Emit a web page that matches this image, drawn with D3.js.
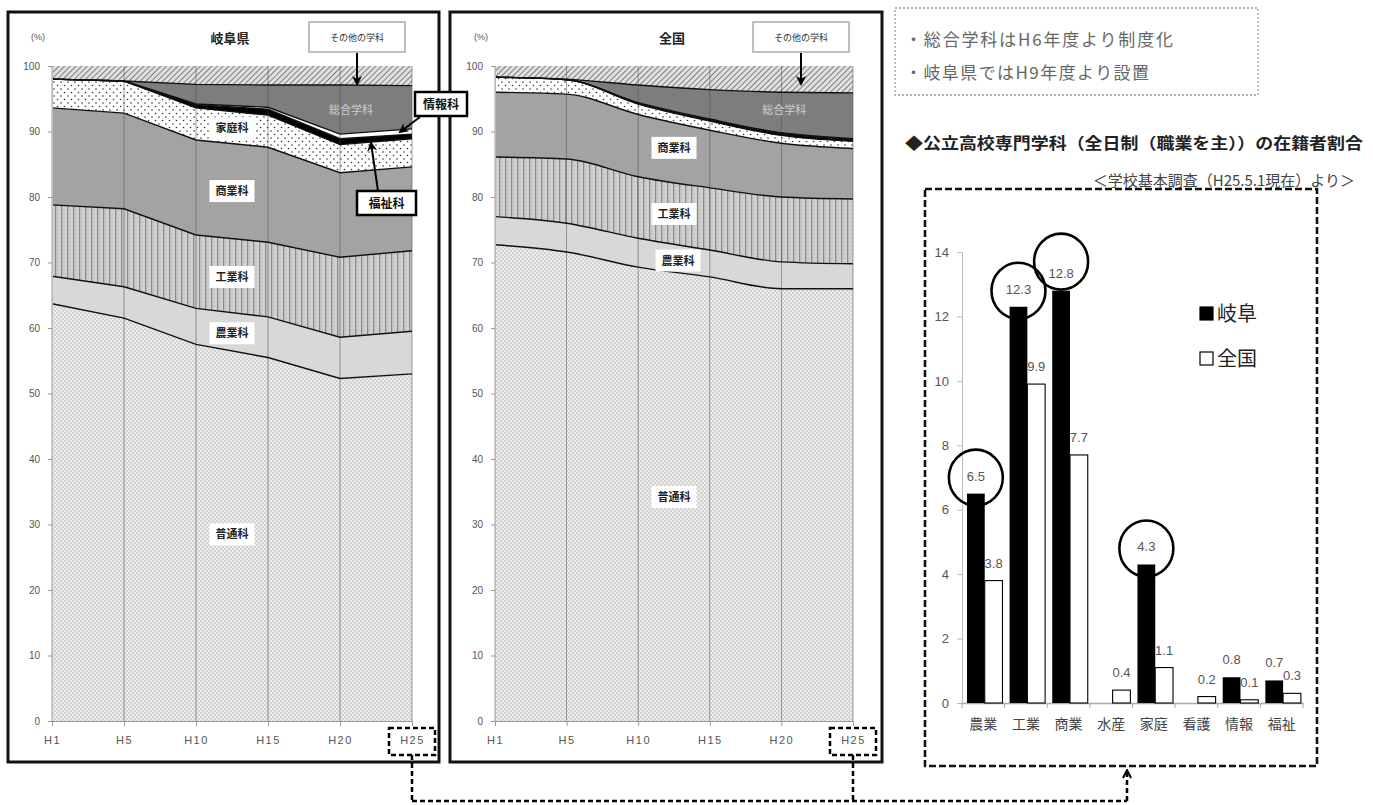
<!DOCTYPE html>
<html><head><meta charset="utf-8">
<script src="https://cdn.jsdelivr.net/npm/d3@7"></script>
<style>
body{margin:0;background:#fff;}
svg{display:block;}
text{font-family:"Noto Sans CJK JP","Noto Sans",sans-serif;}
.num{font-family:"Liberation Sans","Noto Sans",sans-serif;}
</style></head><body>
<svg id="c" width="1373" height="805"></svg>
<script>
// ---------- data ----------
const years = ["H1","H5","H10","H15","H20","H25"];
const layerKeys = ["普通科","農業科","工業科","商業科","家庭科","福祉科","情報科","総合学科","その他の学科"];
const panelTicks = [0,10,20,30,40,50,60,70,80,90,100];

// 岐阜県 (%)
const gifuFutsu   = [63.7,61.5,57.5,55.5,52.3,53.0];
const gifuNogyo   = [4.2,4.8,5.5,6.2,6.3,6.5];
const gifuKogyo   = [10.9,11.9,11.2,11.4,12.2,12.3];
const gifuShogyo  = [14.8,14.6,14.5,14.5,12.9,12.8];
const gifuKatei   = [4.4,4.9,4.9,4.9,4.3,4.3];
const gifuFukushi = [0,0,0.5,0.9,0.9,0.7];
const gifuJoho    = [0,0,0.1,0.3,0.7,0.8];
const gifuSogo    = [0,0,3.0,3.4,7.5,6.6];
const gifuOther   = [2.0,2.3,2.8,2.9,2.9,3.0];

// 全国 (%)
const natFutsu   = [72.7,71.6,69.3,67.8,66.0,66.0];
const natNogyo   = [4.3,4.4,4.4,4.1,4.1,3.8];
const natKogyo   = [9.1,9.8,9.4,9.5,9.9,9.9];
const natShogyo  = [9.9,9.9,9.5,8.8,8.2,7.7];
const natKatei   = [2.3,2.2,1.6,1.4,1.2,1.1];
const natFukushi = [0,0,0.1,0.2,0.3,0.3];
const natJoho    = [0,0,0.1,0.1,0.1,0.1];
const natSogo    = [0,0.1,2.7,4.5,6.2,7.0];
const natOther   = [1.7,2.0,2.9,3.6,4.0,4.1];

// bar chart (H25)
const barCats  = ["農業","工業","商業","水産","家庭","看護","情報","福祉"];
const gifuBar  = [6.5,12.3,12.8,0,4.3,0,0.8,0.7];
const natBar   = [3.8,9.9,7.7,0.4,1.1,0.2,0.1,0.3];
const circled  = ["農業","工業","商業","家庭"];
const barTicks = [0,2,4,6,8,10,12,14];
const seriesNames = ["岐阜","全国"];

// ---------- drawing ----------
const svg = d3.select("#c");
const defs = svg.append("defs");

function pat(id,w,h,build,transform){
  const p = defs.append("pattern").attr("id",id).attr("width",w).attr("height",h)
    .attr("patternUnits","userSpaceOnUse");
  if(transform) p.attr("patternTransform",transform);
  build(p);
}
pat("pFutsu",4,4,p=>{
  p.append("rect").attr("width",4).attr("height",4).attr("fill","#ececec");
  p.append("circle").attr("cx",1).attr("cy",1).attr("r",0.7).attr("fill","#a5a5a5");
  p.append("circle").attr("cx",3).attr("cy",3).attr("r",0.7).attr("fill","#a5a5a5");
});
pat("pNogyo",4,4,p=>{
  p.append("rect").attr("width",4).attr("height",4).attr("fill","#d8d8d8");
});
pat("pKogyo",6,4,p=>{
  p.append("rect").attr("width",6).attr("height",4).attr("fill","#d0d0d0");
  p.append("rect").attr("x",1).attr("width",1.3).attr("height",4).attr("fill","#8a8a8a");
  p.append("circle").attr("cx",4).attr("cy",2).attr("r",0.55).attr("fill","#a0a0a0");
});
pat("pShogyo",4,4,p=>{
  p.append("rect").attr("width",4).attr("height",4).attr("fill","#a3a3a3");
});
pat("pKatei",7,7,p=>{
  p.append("rect").attr("width",7).attr("height",7).attr("fill","#fff");
  p.append("circle").attr("cx",1.5).attr("cy",1.5).attr("r",0.8).attr("fill","#333");
  p.append("circle").attr("cx",5).attr("cy",5).attr("r",0.8).attr("fill","#333");
});
pat("pOther",4,4,p=>{
  p.append("rect").attr("width",4).attr("height",4).attr("fill","#e0e0e0");
  p.append("line").attr("x1",0).attr("y1",0).attr("x2",0).attr("y2",4).attr("stroke","#555").attr("stroke-width",1.4);
},"rotate(45)");

const fills = {
  "普通科":"url(#pFutsu)","農業科":"url(#pNogyo)","工業科":"url(#pKogyo)","商業科":"url(#pShogyo)",
  "家庭科":"url(#pKatei)","福祉科":"#000","情報科":"#fff","総合学科":"#7d7d7d","その他の学科":"url(#pOther)"
};

defs.append("marker").attr("id","arr").attr("viewBox","0 0 10 10").attr("refX",8).attr("refY",5)
  .attr("markerWidth",5).attr("markerHeight",5).attr("orient","auto-start-reverse")
  .append("path").attr("d","M0,0 L10,5 L0,10 L3,5 Z").attr("fill","#000");
defs.append("marker").attr("id","arrOpen").attr("viewBox","0 0 10 10").attr("refX",9).attr("refY",5)
  .attr("markerWidth",4).attr("markerHeight",4).attr("orient","auto")
  .append("path").attr("d","M1,1 L9,5 L1,9").attr("fill","none").attr("stroke","#000").attr("stroke-width",2);

function buildRows(arrs){
  return years.map((yr,i)=>{
    const o={year:yr};
    layerKeys.forEach((k,j)=>o[k]=arrs[j][i]);
    return o;
  });
}

function drawPanel(cfg){
  const g = svg.append("g");
  const x = d3.scalePoint(years,[cfg.x0,cfg.x1]);
  const y = d3.scaleLinear([0,100],[721,66]);
  const stack = d3.stack().keys(layerKeys)(buildRows(cfg.arrs));
  const curve = cfg.smooth ? d3.curveMonotoneX : d3.curveLinear;
  const area = d3.area().x(d=>x(d.data.year)).y0(d=>y(d[0])).y1(d=>y(d[1])).curve(curve);
  const line = d3.line().x(d=>x(d.data.year)).y(d=>y(d[1])).curve(curve);

  // frame
  g.append("rect").attr("x",cfg.fx).attr("y",12).attr("width",cfg.fw).attr("height",750)
    .attr("fill","#fff").attr("stroke","#111").attr("stroke-width",3);

  g.selectAll("path.area").data(stack).join("path").attr("class","area")
    .attr("d",area).attr("fill",d=>fills[d.key]);

  // vertical grid lines
  g.selectAll("line.vg").data(years).join("line").attr("class","vg")
    .attr("x1",d=>x(d)).attr("x2",d=>x(d)).attr("y1",y(100)).attr("y2",y(0))
    .attr("stroke","#555").attr("stroke-width",0.7).attr("opacity",0.8);

  // boundaries
  g.selectAll("path.bd").data(stack.slice(0,-1)).join("path").attr("class","bd")
    .attr("d",line).attr("fill","none").attr("stroke","#111").attr("stroke-width",1.4);

  // y axis
  const ya = g.append("g").attr("transform",`translate(${cfg.x0},0)`)
    .call(d3.axisLeft(y).tickValues(panelTicks).tickSize(4).tickPadding(8));
  ya.select(".domain").attr("stroke","#bbb");
  ya.selectAll(".tick line").attr("stroke","#999");
  ya.selectAll("text").attr("class","num").attr("font-size",10).attr("fill","#555");
  // x axis
  const xa = g.append("g").attr("transform",`translate(0,${y(0)})`)
    .call(d3.axisBottom(x).tickSize(5).tickPadding(10));
  xa.select(".domain").attr("stroke","#999");
  xa.selectAll(".tick line").attr("stroke","#999");
  xa.selectAll("text").attr("class","num").attr("font-size",11).attr("fill","#555").attr("letter-spacing","1.5px");

  g.append("text").attr("class","num").attr("x",cfg.x0-14).attr("y",40).attr("text-anchor","middle")
    .attr("font-size",9).attr("fill","#555").text("(%)");
  g.append("text").attr("x",cfg.titleX).attr("y",43).attr("text-anchor","middle")
    .attr("font-size",13).attr("font-weight","bold").attr("fill","#222").text(cfg.title);

  // "その他の学科" box + arrow
  g.append("rect").attr("x",cfg.oX).attr("y",22).attr("width",96).attr("height",30)
    .attr("fill","#fff").attr("stroke","#aaa").attr("stroke-width",1.5);
  g.append("text").attr("x",cfg.oX+48).attr("y",41).attr("text-anchor","middle")
    .attr("font-size",9).attr("fill","#333").text("その他の学科");
  g.append("line").attr("x1",cfg.oX+48).attr("x2",cfg.oX+48).attr("y1",53).attr("y2",84)
    .attr("stroke","#000").attr("stroke-width",2).attr("marker-end","url(#arr)");

  // area labels
  cfg.labels.forEach(l=>{
    const lx = (x(years[l.i])+x(years[l.i+1]))/2 + (l.dx||0);
    const ly = y(l.v);
    if(l.plain){
      g.append("text").attr("x",lx).attr("y",ly+4).attr("text-anchor","middle")
        .attr("font-size",11).attr("fill","#cfcfcf").text(l.t);
    } else {
      const w = l.t.length*11+12;
      g.append("rect").attr("x",lx-w/2).attr("y",ly-11).attr("width",w).attr("height",22).attr("fill","#fff");
      g.append("text").attr("x",lx).attr("y",ly+4).attr("text-anchor","middle")
        .attr("font-size",11).attr("font-weight","bold").attr("fill","#222").text(l.t);
    }
  });

  // H25 dashed box
  g.append("rect").attr("x",x("H25")-23).attr("y",728).attr("width",46).attr("height",27)
    .attr("fill","none").attr("stroke","#000").attr("stroke-width",2.5).attr("stroke-dasharray","5,3");
  return {x,y,g};
}

const left = drawPanel({x0:52,x1:412,fx:8,fw:431,title:"岐阜県",titleX:230,oX:309,smooth:false,
  arrs:[gifuFutsu,gifuNogyo,gifuKogyo,gifuShogyo,gifuKatei,gifuFukushi,gifuJoho,gifuSogo,gifuOther],
  labels:[{t:"家庭科",i:2,v:90.5},{t:"商業科",i:2,v:80.9},{t:"工業科",i:2,v:67.8},{t:"農業科",i:2,v:59.2},
          {t:"普通科",i:2,v:28.5},{t:"総合学科",i:4,v:93.3,plain:true,dx:-25}]});
const mid = drawPanel({x0:495,x1:853,fx:450,fw:432,title:"全国",titleX:672,oX:753,smooth:true,
  arrs:[natFutsu,natNogyo,natKogyo,natShogyo,natKatei,natFukushi,natJoho,natSogo,natOther],
  labels:[{t:"商業科",i:2,v:87.5},{t:"工業科",i:2,v:77.4},{t:"農業科",i:2,v:70.3,dx:4},
          {t:"普通科",i:2,v:34.2},{t:"総合学科",i:4,v:93.3,plain:true,dx:-33}]});

// callouts on left panel (情報科 / 福祉科)
function callout(bx,by,bw,t,ax1,ay1,ax2,ay2){
  svg.append("line").attr("x1",ax1).attr("y1",ay1).attr("x2",ax2).attr("y2",ay2)
    .attr("stroke","#000").attr("stroke-width",2).attr("marker-end","url(#arr)");
  svg.append("rect").attr("x",bx).attr("y",by).attr("width",bw).attr("height",24)
    .attr("fill","#fff").attr("stroke","#000").attr("stroke-width",2.5);
  svg.append("text").attr("x",bx+bw/2).attr("y",by+17).attr("text-anchor","middle")
    .attr("font-size",12).attr("font-weight","bold").attr("fill","#111").text(t);
}
callout(415,92,52,"情報科",420,117,400,132);
callout(357,191,59,"福祉科",378,191,371,143);

// ---------- right side text ----------
svg.append("rect").attr("x",895).attr("y",8).attr("width",363).attr("height",87)
  .attr("fill","none").attr("stroke","#999").attr("stroke-width",1.3).attr("stroke-dasharray","2,2");
svg.append("text").attr("x",905).attr("y",46).attr("font-size",17).attr("fill","#666")
  .attr("textLength",268).attr("lengthAdjust","spacing").text("・総合学科はH6年度より制度化");
svg.append("text").attr("x",905).attr("y",79).attr("font-size",17).attr("fill","#666")
  .attr("textLength",244).attr("lengthAdjust","spacing").text("・岐阜県ではH9年度より設置");
svg.append("text").attr("x",905).attr("y",149).attr("font-size",16).attr("font-weight","bold").attr("fill","#222")
  .attr("textLength",458).attr("lengthAdjust","spacingAndGlyphs").text("◆公立高校専門学科（全日制（職業を主））の在籍者割合");
svg.append("text").attr("x",1355).attr("y",186).attr("text-anchor","end").attr("font-size",15).attr("fill","#444")
  .text("＜学校基本調査（H25.5.1現在）より＞");

// ---------- bar chart ----------
svg.append("rect").attr("x",925).attr("y",189).attr("width",392).attr("height",577)
  .attr("fill","none").attr("stroke","#111").attr("stroke-width",2.6).attr("stroke-dasharray","7,3");

const bx = d3.scaleBand(barCats,[962,1303]);
const bx1 = d3.scaleBand(seriesNames,[0,bx.bandwidth()]).paddingOuter(0.2).align(0.7);
const by = d3.scaleLinear([0,14],[703,252]);

const bg = svg.append("g");
const bya = bg.append("g").attr("transform","translate(962,0)")
  .call(d3.axisLeft(by).tickValues(barTicks).tickSize(5).tickPadding(8));
bya.select(".domain").attr("stroke","#bbb");
bya.selectAll(".tick line").attr("stroke","#bbb");
bya.selectAll("text").attr("class","num").attr("font-size",13).attr("fill","#555");

const bxa = bg.append("g").attr("transform","translate(0,703)")
  .call(d3.axisBottom(bx).tickSize(0).tickPadding(16));
bxa.select(".domain").attr("stroke","#aaa").attr("stroke-width",1.5);
bxa.selectAll("text").attr("font-size",14).attr("fill","#444");
// boundary ticks between categories
bg.selectAll("line.bt").data(barCats.concat(["_end"])).join("line").attr("class","bt")
  .attr("x1",(d,i)=>962+i*bx.step()).attr("x2",(d,i)=>962+i*bx.step())
  .attr("y1",703).attr("y2",708).attr("stroke","#aaa");

const barRows = barCats.map((c,i)=>({cat:c, vals:[{s:"岐阜",v:gifuBar[i]},{s:"全国",v:natBar[i]}]}));
const grp = bg.selectAll("g.grp").data(barRows).join("g").attr("class","grp")
  .attr("transform",d=>`translate(${bx(d.cat)},0)`);
grp.selectAll("rect").data(d=>d.vals.filter(v=>v.v>0)).join("rect")
  .attr("x",d=>bx1(d.s)).attr("width",bx1.bandwidth())
  .attr("y",d=>by(d.v)).attr("height",d=>by(0)-by(d.v))
  .attr("fill",d=>d.s==="岐阜"?"#000":"#fff").attr("stroke","#000").attr("stroke-width",d=>d.s==="岐阜"?0:1.1);
grp.selectAll("text.val").data(d=>d.vals.filter(v=>v.v>0)).join("text").attr("class","val num")
  .attr("x",d=>bx1(d.s)+bx1.bandwidth()/2).attr("y",d=>by(d.v)-13)
  .attr("text-anchor","middle").attr("font-size",13).attr("fill","#555").text(d=>d.v.toFixed(1));
// circles
grp.filter(d=>circled.includes(d.cat)).each(function(d){
  const v = d.vals[0].v;
  const cx = bx1("岐阜")+bx1.bandwidth()/2;
  const lift = v>12.5 ? 29 : 16;
  d3.select(this).append("ellipse").attr("cx",cx).attr("cy",by(v)-lift).attr("rx",27).attr("ry",28)
    .attr("fill","none").attr("stroke","#000").attr("stroke-width",2.6);
});

// legend
const lg = svg.append("g");
seriesNames.forEach((s,i)=>{
  lg.append("rect").attr("x",1200).attr("y",307+i*45).attr("width",13).attr("height",13)
    .attr("fill",i===0?"#000":"#fff").attr("stroke","#000").attr("stroke-width",1.2);
  lg.append("text").attr("x",1217).attr("y",321+i*45).attr("font-size",20).attr("fill","#222").text(s);
});

// ---------- connectors ----------
const cg = svg.append("g").attr("fill","none").attr("stroke","#000").attr("stroke-width",2.5).attr("stroke-dasharray","5,3");
cg.append("line").attr("x1",left.x("H25")).attr("x2",left.x("H25")).attr("y1",755).attr("y2",801);
cg.append("line").attr("x1",mid.x("H25")).attr("x2",mid.x("H25")).attr("y1",755).attr("y2",801);
cg.append("line").attr("x1",left.x("H25")).attr("x2",1127).attr("y1",801).attr("y2",801);
cg.append("line").attr("x1",1127).attr("x2",1127).attr("y1",801).attr("y2",770).attr("marker-end","url(#arrOpen)");
</script>
</body></html>
